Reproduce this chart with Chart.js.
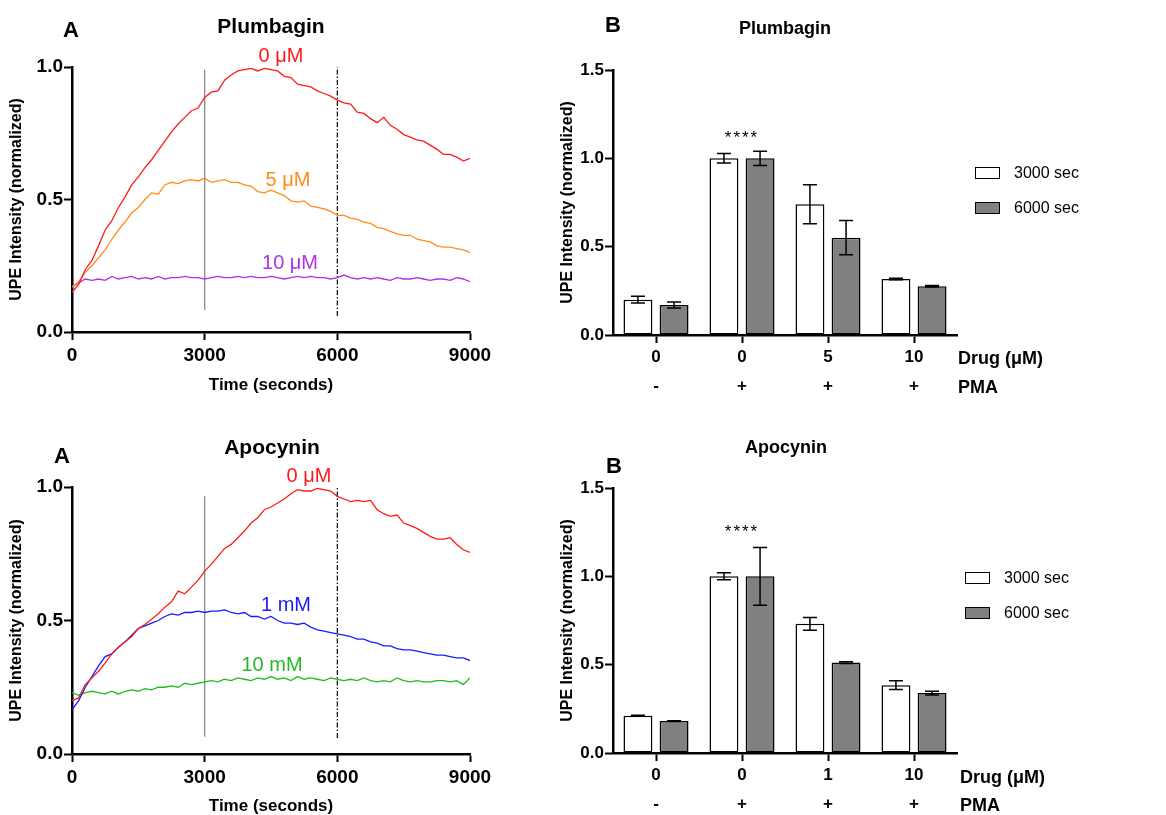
<!DOCTYPE html>
<html lang="en">
<head>
<meta charset="UTF-8">
<title>UPE Intensity - Plumbagin and Apocynin</title>
<script src="https://cdn.jsdelivr.net/npm/chart.js"></script>
<style>
  body { margin: 0; background: #fff; font-family: 'Liberation Sans', Arial, sans-serif; }
  #fig { position: relative; width: 1166px; height: 815px; overflow: hidden; }
  canvas { position: absolute; }
  .lbl { position: absolute; font-weight: bold; color: #000; white-space: nowrap; line-height: 1; transform: translate(-50%, -50%); }
  .side { position: absolute; font-weight: bold; font-size: 18px; color: #000; white-space: nowrap; line-height: 1; transform: translate(0, -50%); }
  .legend { position: absolute; font-size: 16px; color: #000; }
  .legend .row { display: flex; align-items: center; height: 35px; }
  .legend .box { box-sizing: border-box; width: 25px; height: 12px; border: 1.5px solid #000; margin-right: 14px; }
</style>
</head>
<body>
<div id="fig">
  <canvas id="lineTop" width="560" height="405" style="left:0;top:0"></canvas>
  <canvas id="barTop" width="606" height="405" style="left:560px;top:0"></canvas>
  <canvas id="lineBot" width="560" height="410" style="left:0;top:405px"></canvas>
  <canvas id="barBot" width="606" height="410" style="left:560px;top:405px"></canvas>

  <div class="lbl" style="left:71px;top:30px;font-size:22px">A</div>
  <div class="lbl" style="left:271px;top:25px;font-size:21px">Plumbagin</div>
  <div class="lbl" style="left:613px;top:25px;font-size:22px">B</div>
  <div class="lbl" style="left:785px;top:28px;font-size:18px">Plumbagin</div>
  <div class="lbl" style="left:62px;top:456px;font-size:22px">A</div>
  <div class="lbl" style="left:272px;top:446px;font-size:21px">Apocynin</div>
  <div class="lbl" style="left:614px;top:466px;font-size:22px">B</div>
  <div class="lbl" style="left:786px;top:447px;font-size:18px">Apocynin</div>

  <div class="side" style="left:958px;top:358px">Drug (&mu;M)</div>
  <div class="side" style="left:958px;top:387px">PMA</div>
  <div class="side" style="left:960px;top:777px">Drug (&mu;M)</div>
  <div class="side" style="left:960px;top:805px">PMA</div>

  <div class="legend" id="legTop" style="left:975px;top:155px"></div>
  <div class="legend" id="legBot" style="left:965px;top:560px"></div>
</div>

<script>
  const times = [0,150,300,450,600,750,900,1050,1200,1350,1500,1650,1800,1950,2100,2250,2400,2550,2700,2850,
    3000,3150,3300,3450,3600,3750,3900,4050,4200,4350,4500,4650,4800,4950,5100,5250,5400,5550,5700,5850,
    6000,6150,6300,6450,6600,6750,6900,7050,7200,7350,7500,7650,7800,7950,8100,8250,8400,8550,8700,8850,9000]

  const plumb0 = [0.15,0.18,0.235,0.27,0.325,0.385,0.42,0.47,0.51,0.555,
    0.585,0.62,0.65,0.685,0.72,0.755,0.785,0.81,0.835,0.845,
    0.885,0.905,0.91,0.95,0.97,0.985,0.99,0.995,0.985,0.995,
    0.99,0.985,0.965,0.96,0.935,0.93,0.925,0.91,0.9,0.89,
    0.875,0.865,0.86,0.83,0.825,0.805,0.79,0.81,0.78,0.765,
    0.745,0.735,0.725,0.72,0.705,0.69,0.67,0.67,0.66,0.645,0.655]
  const plumb5 = [0.17,0.19,0.225,0.25,0.28,0.31,0.35,0.385,0.415,0.45,
    0.47,0.5,0.525,0.52,0.555,0.565,0.56,0.57,0.575,0.57,
    0.58,0.565,0.57,0.575,0.565,0.565,0.555,0.55,0.53,0.525,
    0.535,0.525,0.515,0.495,0.49,0.495,0.475,0.47,0.465,0.455,
    0.44,0.44,0.43,0.425,0.415,0.41,0.395,0.39,0.38,0.37,
    0.365,0.365,0.35,0.345,0.34,0.325,0.32,0.32,0.315,0.31,0.3]
  const plumb10 = [0.17,0.185,0.2,0.195,0.2,0.195,0.21,0.2,0.205,0.21,
    0.2,0.205,0.2,0.21,0.2,0.205,0.205,0.21,0.205,0.205,
    0.2,0.205,0.21,0.205,0.205,0.21,0.205,0.21,0.205,0.205,
    0.21,0.205,0.2,0.205,0.21,0.205,0.21,0.205,0.205,0.2,
    0.205,0.215,0.205,0.2,0.205,0.2,0.205,0.2,0.195,0.205,
    0.2,0.2,0.205,0.2,0.195,0.2,0.2,0.195,0.205,0.2,0.19]

  const apo0 = [0.2,0.21,0.26,0.285,0.31,0.34,0.375,0.4,0.42,0.44,
    0.47,0.485,0.505,0.525,0.55,0.57,0.61,0.6,0.625,0.65,
    0.685,0.71,0.74,0.77,0.785,0.81,0.835,0.865,0.885,0.915,
    0.925,0.94,0.955,0.975,0.99,0.985,0.985,0.995,0.99,0.985,
    0.965,0.955,0.945,0.95,0.945,0.95,0.915,0.9,0.89,0.895,
    0.865,0.855,0.845,0.83,0.815,0.805,0.805,0.81,0.785,0.765,0.755]
  const apo1 = [0.165,0.2,0.25,0.29,0.33,0.365,0.375,0.4,0.42,0.445,
    0.47,0.48,0.49,0.5,0.515,0.525,0.52,0.53,0.53,0.535,
    0.53,0.535,0.535,0.54,0.53,0.525,0.53,0.515,0.515,0.505,
    0.515,0.5,0.49,0.49,0.485,0.49,0.475,0.465,0.46,0.455,
    0.45,0.445,0.44,0.43,0.43,0.42,0.415,0.405,0.405,0.395,
    0.39,0.39,0.385,0.38,0.375,0.37,0.37,0.365,0.36,0.36,0.35]
  const apo10 = [0.23,0.22,0.23,0.235,0.23,0.225,0.235,0.225,0.235,0.24,
    0.235,0.245,0.24,0.25,0.25,0.255,0.25,0.265,0.26,0.265,
    0.27,0.275,0.27,0.28,0.275,0.285,0.28,0.275,0.285,0.28,
    0.29,0.28,0.285,0.275,0.29,0.28,0.285,0.28,0.275,0.285,
    0.28,0.275,0.28,0.275,0.285,0.275,0.27,0.275,0.27,0.285,
    0.275,0.27,0.275,0.27,0.27,0.275,0.275,0.27,0.275,0.26,0.285]

  const timeTicks = [0, 3000, 6000, 9000]
  const lineYTicks = [0, 0.5, 1.0]
  const barYTicks = [0, 0.5, 1.0, 1.5]

  // panels B
  const barSeries = ['3000 sec', '6000 sec']
  const pmaRow = ['-', '+', '+', '+']
  const drugPlumb = ['0', '0', '5', '10']
  const drugApo = ['0', '0', '1', '10']
  const plumb3000 = [0.20, 1.00, 0.74, 0.317]
  const plumb3000Err = [0.019, 0.027, 0.11, 0.004]
  const plumb6000 = [0.17, 1.00, 0.551, 0.276]
  const plumb6000Err = [0.017, 0.04, 0.097, 0.004]
  const apo3000 = [0.211, 1.00, 0.731, 0.384]
  const apo3000Err = [0.002, 0.02, 0.036, 0.025]
  const apo6000 = [0.181, 1.00, 0.512, 0.339]
  const apo6000Err = [0.002, 0.163, 0.005, 0.01]

  const FONT = "'Liberation Sans', Arial, sans-serif"
  Chart.defaults.font.family = FONT
  Chart.defaults.color = '#000'

  const xy = vals => times.map((t, i) => ({ x: t, y: vals[i] }))

  // text beside the curves, placed in data units
  const curveLabels = {
    id: 'curveLabels',
    afterDatasetsDraw(chart, args, opts) {
      const { ctx, scales: { x, y } } = chart
      ctx.save()
      ctx.font = '20px ' + FONT
      ctx.textAlign = 'center'
      ctx.textBaseline = 'middle'
      ;(opts.items || []).forEach(it => {
        ctx.fillStyle = it.color
        ctx.fillText(it.text, x.getPixelForValue(it.t), y.getPixelForValue(it.v))
      })
      ctx.restore()
    }
  }

  // error bars + significance stars on the bar panels
  const errorBars = {
    id: 'errorBars',
    afterDatasetsDraw(chart, args, opts) {
      const { ctx, scales: { x, y } } = chart
      ctx.save()
      ctx.strokeStyle = '#000'
      ctx.lineWidth = 1.5
      chart.data.datasets.forEach((ds, i) => {
        chart.getDatasetMeta(i).data.forEach((bar, j) => {
          const v = ds.data[j], e = ds.errors[j]
          const yt = y.getPixelForValue(v + e), yb = y.getPixelForValue(v - e)
          ctx.beginPath()
          ctx.moveTo(bar.x, yt); ctx.lineTo(bar.x, yb)
          ctx.moveTo(bar.x - 7, yt); ctx.lineTo(bar.x + 7, yt)
          ctx.moveTo(bar.x - 7, yb); ctx.lineTo(bar.x + 7, yb)
          ctx.stroke()
        })
      })
      if (opts.stars) {
        ctx.fillStyle = '#000'
        ctx.font = '17px ' + FONT
        ctx.letterSpacing = '2px'
        ctx.textAlign = 'center'
        ctx.textBaseline = 'middle'
        ctx.fillText('****', x.getPixelForValue(opts.stars.index), y.getPixelForValue(opts.stars.v))
      }
      ctx.restore()
    }
  }

  function axisBase(tickList, fmt, size) {
    return {
      afterBuildTicks: s => { s.ticks = tickList.map(v => ({ value: v })) },
      border: { display: true, color: '#000', width: 2.5 },
      grid: { drawOnChartArea: false, drawTicks: true, tickLength: 8, tickWidth: 2, tickColor: '#000' },
      ticks: { font: { size: size, weight: 'bold' }, color: '#000', callback: fmt }
    }
  }

  function makeLine(id, sets, marks, labels, pad, xHeight) {
    const x = axisBase(timeTicks, v => String(v), 19)
    Object.assign(x, {
      type: 'linear', min: 0, max: 9000,
      afterFit: s => { s.height = xHeight },
      title: { display: true, text: 'Time (seconds)', font: { size: 17, weight: 'bold', lineHeight: 1 }, padding: 0 }
    })
    x.ticks.padding = 4
    x.ticks.maxRotation = 0
    const y = axisBase(lineYTicks, v => v.toFixed(1), 19)
    Object.assign(y, {
      min: 0, max: 1,
      afterFit: s => { s.width = 72 },
      title: { display: true, text: 'UPE Intensity (normalized)', font: { size: 16, weight: 'bold', lineHeight: 1 }, padding: { top: 9, bottom: 0 } }
    })
    y.ticks.padding = 1

    const datasets = sets.map(s => ({
      data: xy(s.vals), borderColor: s.color, borderWidth: 1.3, pointRadius: 0, tension: 0
    }))
    datasets.push({ data: [{ x: 3000, y: marks.solid[0] }, { x: 3000, y: marks.solid[1] }], borderColor: '#8a8a8a', borderWidth: 1.3, pointRadius: 0 })
    datasets.push({ data: [{ x: 6000, y: marks.dash[0] }, { x: 6000, y: marks.dash[1] }], borderColor: '#000', borderWidth: 1.2, borderDash: [5, 2, 1.5, 2], pointRadius: 0 })

    new Chart(document.getElementById(id), {
      type: 'line',
      data: { datasets },
      options: {
        responsive: false, animation: false,
        layout: { padding: pad },
        plugins: { legend: { display: false }, tooltip: { enabled: false }, curveLabels: { items: labels } },
        scales: { x, y }
      },
      plugins: [curveLabels]
    })
  }

  function makeBar(id, drugs, d1, e1, d2, e2, stars, pad, xHeight) {
    const x = axisBase([], null, 17)
    delete x.afterBuildTicks
    Object.assign(x, { type: 'category', offset: true, afterFit: s => { s.height = xHeight } })
    x.grid.offset = false
    x.ticks = { font: { size: 17, weight: 'bold', lineHeight: 1.7 }, color: '#000', padding: 0, maxRotation: 0, autoSkip: false }
    const y = axisBase(barYTicks, v => v.toFixed(1), 17)
    Object.assign(y, {
      min: 0, max: 1.5,
      afterFit: s => { s.width = 53 },
      title: { display: true, text: 'UPE Intensity (normalized)', font: { size: 16, weight: 'bold', lineHeight: 1 }, padding: { top: 0, bottom: 0 } }
    })
    y.ticks.padding = 1

    const common = { borderColor: '#000', borderWidth: 1.5, borderSkipped: false, categoryPercentage: 0.84, barPercentage: 0.8 }
    new Chart(document.getElementById(id), {
      type: 'bar',
      data: {
        labels: drugs.map((d, i) => [d, pmaRow[i]]),
        datasets: [
          Object.assign({ label: barSeries[0], data: d1, errors: e1, backgroundColor: '#ffffff' }, common),
          Object.assign({ label: barSeries[1], data: d2, errors: e2, backgroundColor: '#808080' }, common)
        ]
      },
      options: {
        responsive: false, animation: false,
        layout: { padding: pad },
        plugins: { legend: { display: false }, tooltip: { enabled: false }, errorBars: { stars } },
        scales: { x, y }
      },
      plugins: [errorBars]
    })
  }

  function legend(elId) {
    const fills = ['#ffffff', '#808080']
    document.getElementById(elId).innerHTML = barSeries.map((s, i) =>
      `<div class="row"><span class="box" style="background:${fills[i]}"></span>${s}</div>`).join('')
  }

  makeLine('lineTop', [
    { vals: plumb0, color: '#ff1a1a' },
    { vals: plumb5, color: '#ff8c1a' },
    { vals: plumb10, color: '#b030e8' }
  ], { solid: [0.083, 0.99], dash: [0.06, 1.0] }, [
    { text: '0 \u03bcM', t: 4726, v: 1.04, color: '#ff1a1a' },
    { text: '5 \u03bcM', t: 4884, v: 0.57, color: '#ff8c1a' },
    { text: '10 \u03bcM', t: 4930, v: 0.26, color: '#b030e8' }
  ], { top: 67, left: 0, right: 90, bottom: 405 - 332 - 62 }, 62)

  makeLine('lineBot', [
    { vals: apo0, color: '#ff1a1a' },
    { vals: apo1, color: '#1a1aff' },
    { vals: apo10, color: '#22bb22' }
  ], { solid: [0.065, 0.965], dash: [0.06, 1.0] }, [
    { text: '0 \u03bcM', t: 5360, v: 1.04, color: '#ff1a1a' },
    { text: '1 mM', t: 4839, v: 0.558, color: '#1a1aff' },
    { text: '10 mM', t: 4523, v: 0.333, color: '#22bb22' }
  ], { top: 82, left: 0, right: 90, bottom: 0 }, 61)

  makeBar('barTop', drugPlumb, plumb3000, plumb3000Err, plumb6000, plumb6000Err,
    { index: 1, v: 1.115 }, { top: 70, left: 0, right: 209, bottom: 405 - 335 - 62 }, 62)
  makeBar('barBot', drugApo, apo3000, apo3000Err, apo6000, apo6000Err,
    { index: 1, v: 1.25 }, { top: 83, left: 0, right: 209, bottom: 0 }, 62)

  legend('legTop')
  legend('legBot')
</script>
</body>
</html>
